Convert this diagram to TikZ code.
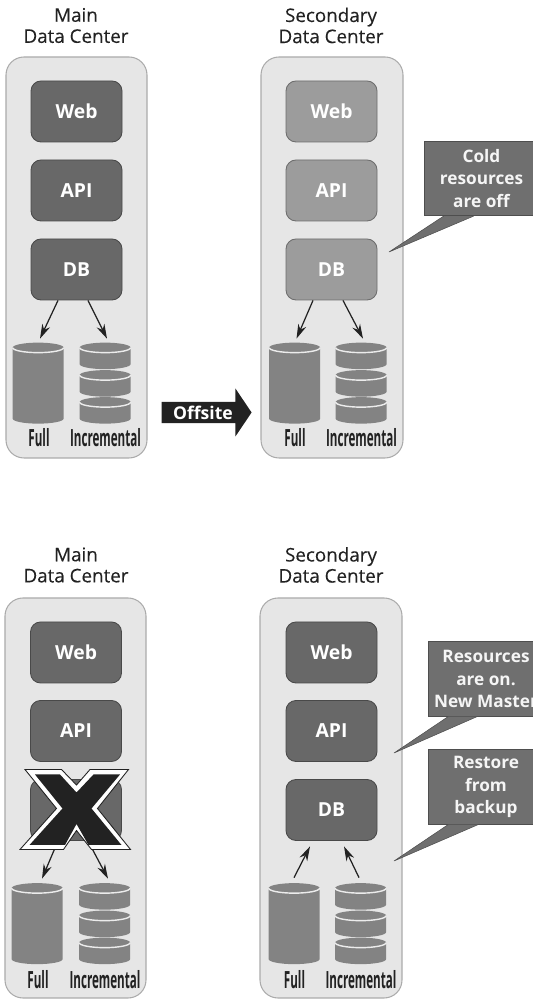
\documentclass[tikz,border=0pt]{standalone}
\usepackage{fontspec}
\setmainfont{Open Sans}
\newfontfamily\titlefont[FakeBold=0.2]{Open Sans}
\usetikzlibrary{arrows.meta,shapes.arrows}
\definecolor{panelgray}{HTML}{E6E6E6}
\definecolor{paneledge}{HTML}{ABABAB}
\definecolor{hotgray}{HTML}{686868}
\definecolor{coldgray}{HTML}{9C9C9C}
\definecolor{drumgray}{HTML}{838383}
\definecolor{notegray}{HTML}{6F6F6F}
\definecolor{inkgray}{HTML}{222222}
\tikzset{
  panel/.style={draw=paneledge,fill=panelgray,line width=0.6pt,rounded corners=0.36cm,minimum width=2.82cm,minimum height=8.02cm,inner sep=0},
  hot/.style={draw=hotgray!70!black,fill=hotgray,line width=0.5pt,rounded corners=0.2cm,minimum width=1.82cm,minimum height=1.22cm,inner sep=0,text=white,font=\fontsize{11}{13}\selectfont\bfseries},
  cold/.style={hot,draw=coldgray!70!black,fill=coldgray},
  drumbox/.style={minimum width=1.02cm,minimum height=1.62cm,inner sep=0},
  drumlabel/.style={inner sep=0,xscale=0.49,text=inkgray,font=\fontsize{13.5}{15}\selectfont\bfseries},
  drumbody/.style={fill=drumgray},
  drumrim/.style={draw=white!85!gray,line width=0.8pt},
  note/.style={draw=notegray!70!black,fill=notegray,line width=0.4pt,minimum width=2.3cm,minimum height=1.49cm,inner sep=0,align=center,text=white!92!gray,font=\fontsize{9.8}{12.8}\selectfont\bfseries},
  notetail/.style={fill=notegray,draw=notegray!70!black,line width=0.3pt},
  title/.style={inner sep=0,align=center,text=inkgray,font=\fontsize{10.7}{12}\titlefont},
  tierarrow/.style={-{Stealth[length=0.29cm,width=0.17cm]},draw=inkgray,line width=0.7pt},
  offsite/.style={single arrow,fill=inkgray,minimum width=0.96cm,minimum height=1.8cm,single arrow head extend=0.18cm,single arrow tip angle=112,single arrow head indent=0cm,inner sep=0,text=white,font=\fontsize{10}{12}\selectfont\bfseries}
}
% one drum: node name, drop from the top of the node, height of its side
\newcommand{\drum}[3]{
\fill[drumbody] ([yshift=-#2cm-0.1cm]#1.north west) -- ++(0,-#3) arc[start angle=180,end angle=360,x radius=0.51,y radius=0.1] -- ++(0,#3) arc[start angle=0,end angle=180,x radius=0.51,y radius=0.1] -- cycle;
\draw[drumrim] ([yshift=-#2cm-0.1cm]#1.north west) arc[start angle=180,end angle=360,x radius=0.51,y radius=0.1];
}
\newcommand{\fulldrum}[1]{\drum{#1}{0}{1.42}}
\newcommand{\incdrum}[1]{\drum{#1}{0}{0.33}\drum{#1}{0.55}{0.33}\drum{#1}{1.09}{0.33}}
\begin{document}
\begin{tikzpicture}
\useasboundingbox (0,0) rectangle (10.64,19.98);
% top row
\node[title] (titleA) at (1.52,19.47) {Main\\Data Center};
\node[title] (titleB) at (6.62,19.47) {Secondary\\Data Center};
\node[panel] (panelA) at (1.53,14.83) {};
\node[panel,minimum width=2.84cm] (panelB) at (6.64,14.83) {};
\node[hot] (webA) at (1.53,17.75) {Web};
\node[hot] (apiA) at (1.53,16.17) {API};
\node[hot] (dbA) at (1.53,14.59) {DB};
\node[cold] (webB) at (6.63,17.75) {Web};
\node[cold] (apiB) at (6.63,16.17) {API};
\node[cold] (dbB) at (6.63,14.59) {DB};
\node[drumbox] (fullA) at (0.77,12.31) {};
\node[drumbox] (incA) at (2.11,12.31) {};
\node[drumbox] (fullB) at (5.90,12.31) {};
\node[drumbox] (incB) at (7.23,12.31) {};
\fulldrum{fullA}
\incdrum{incA}
\fulldrum{fullB}
\incdrum{incB}
\node[drumlabel] (fulltextA) at (0.78,11.22) {Full};
\node[drumlabel] (inctextA) at (2.11,11.22) {Incremental};
\node[drumlabel] (fulltextB) at (5.90,11.22) {Full};
\node[drumlabel] (inctextB) at (7.23,11.22) {Incremental};
\draw[tierarrow] ([xshift=-0.37cm]dbA.south) -- ([shift={(0.03,0.08)}]fullA.north);
\draw[tierarrow] ([xshift=0.23cm]dbA.south) -- ([shift={(0.03,0.08)}]incA.north);
\draw[tierarrow] ([xshift=-0.37cm]dbB.south) -- ([shift={(0.03,0.08)}]fullB.north);
\draw[tierarrow] ([xshift=0.23cm]dbB.south) -- ([shift={(0.03,0.08)}]incB.north);
\node[offsite] (offsiteA) at (4.06,11.73) {Offsite};
\node[note] (coldnote) at (9.63,16.41) {Cold\\resources\\are off};
\coordinate (coldtip) at (7.78,14.94);
\filldraw[notetail] ([xshift=0.4cm]coldnote.south west) -- (coldtip) -- ([xshift=1cm]coldnote.south west);
% bottom row
\node[title] (titleC) at (1.52,8.68) {Main\\Data Center};
\node[title] (titleD) at (6.62,8.68) {Secondary\\Data Center};
\node[panel,minimum height=8cm] (panelC) at (1.51,4.02) {};
\node[panel,minimum width=2.84cm,minimum height=8cm] (panelD) at (6.62,4.02) {};
\node[hot] (webC) at (1.52,6.93) {Web};
\node[hot] (apiC) at (1.52,5.36) {API};
\node[hot] (dbC) at (1.52,3.78) {};
\node[hot] (webD) at (6.63,6.93) {Web};
\node[hot] (apiD) at (6.63,5.36) {API};
\node[hot] (dbD) at (6.63,3.78) {DB};
\node[drumbox] (fullC) at (0.75,1.50) {};
\node[drumbox] (incC) at (2.10,1.50) {};
\node[drumbox] (fullD) at (5.89,1.50) {};
\node[drumbox] (incD) at (7.22,1.50) {};
\fulldrum{fullC}
\incdrum{incC}
\fulldrum{fullD}
\incdrum{incD}
\node[drumlabel] (fulltextC) at (0.76,0.38) {Full};
\node[drumlabel] (inctextC) at (2.10,0.38) {Incremental};
\node[drumlabel] (fulltextD) at (5.89,0.38) {Full};
\node[drumlabel] (inctextD) at (7.22,0.38) {Incremental};
\draw[tierarrow] ([xshift=-0.36cm]dbC.south) -- ([shift={(0.09,0.09)}]fullC.north);
\draw[tierarrow] ([xshift=0.24cm]dbC.south) -- ([shift={(0.06,0.09)}]incC.north);
\draw[tierarrow] ([shift={(-0.01,0.11)}]fullD.north) -- ([shift={(-0.43,-0.11)}]dbD.south);
\draw[tierarrow] ([shift={(-0.04,0.11)}]incD.north) -- ([shift={(0.25,-0.11)}]dbD.south);
% the cross over the failed database
\filldraw[fill=white,draw=inkgray,line width=0.5pt] (0.50,4.59) -- (1.23,4.59) -- (1.53,4.28) -- (1.80,4.59) -- (2.57,4.59) -- (1.95,3.81) -- (2.61,2.99) -- (1.83,2.99) -- (1.53,3.37) -- (1.27,2.99) -- (0.40,2.99) -- (1.13,3.81) -- cycle;
\fill[inkgray] (0.70,4.49) -- (1.20,4.49) -- (1.53,4.13) -- (1.87,4.49) -- (2.40,4.49) -- (1.83,3.81) -- (2.43,3.08) -- (1.77,3.08) -- (1.53,3.50) -- (1.30,3.08) -- (0.59,3.08) -- (1.25,3.81) -- cycle;
\node[note] (resnote) at (9.72,6.40) {Resources\\are on.\\New Master};
\coordinate (restip) at (7.88,4.92);
\filldraw[notetail] ([xshift=0.4cm]resnote.south west) -- (restip) -- ([xshift=0.98cm]resnote.south west);
\node[note] (backnote) at (9.72,4.24) {Restore\\from\\backup};
\coordinate (backtip) at (7.88,2.76);
\filldraw[notetail] ([xshift=0.4cm]backnote.south west) -- (backtip) -- ([xshift=1cm]backnote.south west);
\end{tikzpicture}
\end{document}
